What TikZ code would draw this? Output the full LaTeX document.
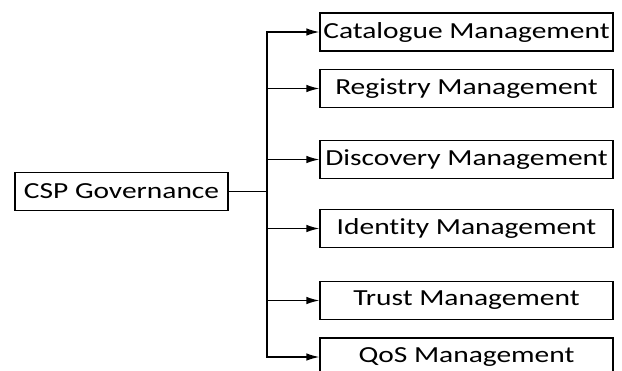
\documentclass[tikz,border=0pt]{standalone}
\usepackage{fontspec}
\setmainfont{Carlito}[FakeStretch=1.28,Ligatures=NoCommon]
\usetikzlibrary{arrows.meta}

\begin{document}
\begin{tikzpicture}[x=1pt,y=-1pt,
  font=\fontsize{23}{27}\selectfont,
  box/.style={draw=black,line width=1.2pt,minimum height=38pt,inner sep=2pt},
  mgmt/.style={box,minimum width=293pt},
  link/.style={line width=1.4pt},
  arr/.style={link,-{Latex[length=13pt,width=7.5pt]}}]
\useasboundingbox (0,0) rectangle (622,370);
\node[box,minimum width=213pt] (csp) at (121.5,191.5) {CSP Governance};
\coordinate (hub) at (267,191.5);
\node[mgmt] (cat) at (466.5,32) {Catalogue Management};
\node[mgmt] (reg) at (466.5,88.5) {Registry Management};
\node[mgmt] (dis) at (466.5,159.5) {Discovery Management};
\node[mgmt] (ide) at (466.5,228.5) {Identity Management};
\node[mgmt] (tru) at (466.5,300.5) {Trust Management};
\node[mgmt] (qos) at (466.5,357) {QoS Management};
\draw[link] (csp) -- (hub);
\draw[arr] (hub) -- (hub |- cat) -- (cat);
\draw[arr] (hub) -- (hub |- qos) -- (qos);
\foreach \m in {reg,dis,ide,tru}
  \draw[arr] (hub |- \m) -- (\m);
\end{tikzpicture}
\end{document}
